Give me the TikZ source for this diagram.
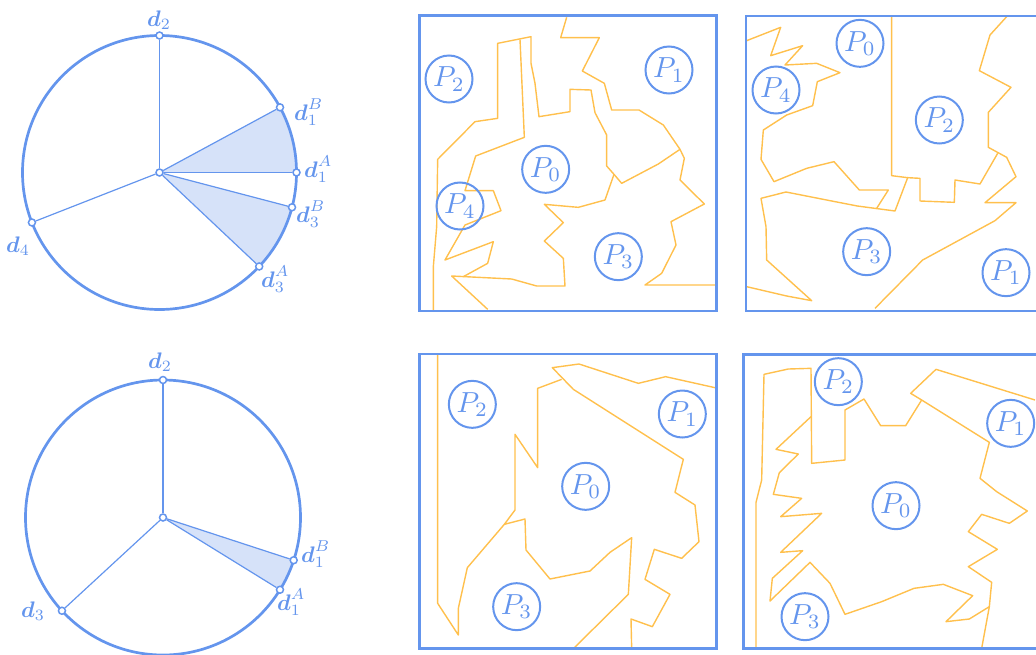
\RequirePackage{fix-cm}
\documentclass[tikz,border=0pt]{standalone}
\usepackage{amsmath}
\usepackage{graphicx}
\usetikzlibrary{calc}
\definecolor{cblue}{RGB}{100,149,237}
\definecolor{corange}{RGB}{255,192,77}
\definecolor{cfill}{RGB}{214,226,249}
\newcommand{\dl}[1]{\scalebox{2.25}{$#1$}}
\newcommand{\pl}[1]{\scalebox{2.9}{$#1$}}
\tikzset{
 disk/.style={draw=cblue,line width=2.7pt},
 spoke/.style={draw=cblue,line width=1.2pt},
 sector/.style={fill=cfill},
 pt/.style={circle,draw=cblue,fill=white,line width=1.5pt,minimum size=7pt,inner sep=0pt},
 dlab/.style={text=cblue,anchor=base west,inner sep=0pt,font=\fontsize{10}{12}\selectfont},
 frame/.style={draw=cblue,line width=2.9pt},
 bnd/.style={draw=corange,line width=1.4pt,line join=round},
 reg/.style={circle,draw=cblue,line width=2pt,minimum size=47pt,inner sep=0pt,text=cblue,font=\fontsize{10}{12}\selectfont},
}
\begin{document}
\begin{tikzpicture}[x=1pt,y=-1pt]
\useasboundingbox (0,0) rectangle (1036,654);
\clip (0,0) rectangle (1036,654);

% ---------- top disk ----------
\coordinate (C1) at (159.5,172.5);
\fill[sector] (C1) -- ($(C1)+(-28.4:137)$) arc[start angle=-28.4,end angle=0,radius=137] -- cycle;
\fill[sector] (C1) -- ($(C1)+(14.7:137)$) arc[start angle=14.7,end angle=43.3,radius=137] -- cycle;
\draw[disk] (C1) circle[radius=137];
\node[pt] (tc) at (C1) {};
\node[pt] (t2) at ($(C1)+(-90:137)$) {};
\node[pt] (t1B) at ($(C1)+(-28.4:137)$) {};
\node[pt] (t1A) at ($(C1)+(0:137)$) {};
\node[pt] (t3B) at ($(C1)+(14.7:137)$) {};
\node[pt] (t3A) at ($(C1)+(43.3:137)$) {};
\node[pt] (t4) at ($(C1)+(158.6:137)$) {};
\foreach \p in {t2,t1B,t1A,t3B,t3A,t4} \draw[spoke] (tc) -- (\p);
\node[dlab] (lt2) at (147,26) {\dl{\boldsymbol{d}_2}};
\node[dlab] (lt1B) at (294,120) {\dl{\boldsymbol{d}_1^B}};
\node[dlab] (lt1A) at (304,177) {\dl{\boldsymbol{d}_1^A}};
\node[dlab] (lt3B) at (296,222) {\dl{\boldsymbol{d}_3^B}};
\node[dlab] (lt3A) at (261,287) {\dl{\boldsymbol{d}_3^A}};
\node[dlab] (lt4) at (6,252) {\dl{\boldsymbol{d}_4}};

% ---------- bottom disk ----------
\coordinate (C2) at (163,517.5);
\fill[sector] (C2) -- ($(C2)+(18.1:137.5)$) arc[start angle=18.1,end angle=31.7,radius=137.5] -- cycle;
\draw[disk] (C2) circle[radius=137.5];
\node[pt] (bc) at (C2) {};
\node[pt] (b2) at ($(C2)+(-90:137.5)$) {};
\node[pt] (b1B) at ($(C2)+(18.1:137.5)$) {};
\node[pt] (b1A) at ($(C2)+(31.7:137.5)$) {};
\node[pt] (b3) at ($(C2)+(137.3:137.5)$) {};
\foreach \p in {b2,b1B,b1A,b3} \draw[spoke] (bc) -- (\p);
\node[dlab] (lb2) at (148,368) {\dl{\boldsymbol{d}_2}};
\node[dlab] (lb1B) at (301,562) {\dl{\boldsymbol{d}_1^B}};
\node[dlab] (lb1A) at (277,610) {\dl{\boldsymbol{d}_1^A}};
\node[dlab] (lb3) at (21,617) {\dl{\boldsymbol{d}_3}};

% ---------- panel A (top middle) ----------
\begin{scope}[shift={(415,10)},scale=1/3]
\draw[bnd] (455,22) -- (437,83) -- (553,83) -- (502,183) -- (568,220) -- (590,300) -- (672,300) -- (745,345) -- (795,418) -- (808,445) -- (795,510) -- (868,582) -- (768,635) -- (783,705) -- (740,790) -- (690,825) -- (900,825);
\draw[bnd] (795,418) -- (730,462) -- (620,520) -- (597,493) -- (575,468) -- (575,375) -- (540,308) -- (528,240) -- (465,238) -- (465,305) -- (372,320) -- (360,220) -- (348,160) -- (348,80) -- (248,100) -- (248,325) -- (180,335) -- (68,448) -- (65,650) -- (55,770) -- (55,900);
\draw[bnd] (597,493) -- (570,570) -- (490,592) -- (388,583) -- (445,638) -- (388,693) -- (445,745) -- (450,828) -- (365,828) -- (290,807) -- (110,798) -- (218,898);
\draw[bnd] (145,800) -- (218,760) -- (235,695) -- (90,750) -- (150,645) -- (258,602) -- (235,542) -- (150,542) -- (182,438) -- (328,382) -- (315,88);
\draw[frame] (14,16) rectangle (905,903);
\node[reg] (a2) at (102,207) {\pl{P_2}};
\node[reg] (a1) at (762,180) {\pl{P_1}};
\node[reg] (a0) at (392,478) {\pl{P_0}};
\node[reg] (a4) at (135,588) {\pl{P_4}};
\node[reg] (a3) at (610,740) {\pl{P_3}};
\end{scope}

% ---------- panel B (top right) ----------
\begin{scope}[shift={(740,10)},scale=1/3]
\draw[bnd] (455,20) -- (455,497) -- (503,503) -- (465,603) -- (352,588) -- (270,572) -- (138,546) -- (63,565) -- (78,650) -- (80,750) -- (215,872) -- (140,858) -- (20,830);
\draw[bnd] (503,503) -- (540,505) -- (540,573) -- (643,577) -- (645,510) -- (720,522) -- (773,430);
\draw[bnd] (800,20) -- (750,75) -- (718,182) -- (813,232) -- (745,307) -- (745,412) -- (800,442) -- (828,500) -- (735,578) -- (828,578) -- (765,632) -- (548,750) -- (405,895);
\draw[bnd] (20,92) -- (122,52) -- (92,137) -- (188,107) -- (135,165) -- (230,160) -- (300,188) -- (232,215) -- (218,287) -- (140,315) -- (70,360) -- (63,448) -- (102,515) -- (200,475) -- (282,455) -- (358,540) -- (445,540) -- (410,595);
\draw[frame] (18,18) rectangle (906,903);
\node[reg] (e0) at (360,100) {\pl{P_0}};
\node[reg] (e4) at (108,240) {\pl{P_4}};
\node[reg] (e2) at (598,330) {\pl{P_2}};
\node[reg] (e3) at (380,725) {\pl{P_3}};
\node[reg] (e1) at (798,788) {\pl{P_1}};
\end{scope}

% ---------- panel C (bottom middle) ----------
\begin{scope}[shift={(415,345)},scale=1/3]
\draw[bnd] (68,30) -- (68,775) -- (130,870) -- (130,790) -- (157,668) -- (268,538) -- (300,495) -- (300,268) -- (368,368) -- (368,130) -- (440,103);
\draw[bnd] (900,128) -- (752,95) -- (670,115) -- (492,57) -- (412,68) -- (475,133) -- (805,343) -- (780,442) -- (840,480) -- (852,590) -- (800,640) -- (718,613) -- (690,703) -- (765,748) -- (712,845) -- (648,822) -- (650,910);
\draw[bnd] (268,538) -- (330,522) -- (333,615) -- (405,702) -- (525,678) -- (585,622) -- (650,578) -- (640,748) -- (478,908);
\draw[frame] (14,27) rectangle (905,910);
\node[reg] (f2) at (172,178) {\pl{P_2}};
\node[reg] (f1) at (802,207) {\pl{P_1}};
\node[reg] (f0) at (512,424) {\pl{P_0}};
\node[reg] (f3) at (305,785) {\pl{P_3}};
\end{scope}

% ---------- panel D (bottom right) ----------
\begin{scope}[shift={(740,345)},scale=1/3]
\draw[bnd] (48,908) -- (48,472) -- (65,405) -- (72,88) -- (145,72) -- (213,70) -- (215,355) -- (315,345) -- (315,195) -- (372,162) -- (422,242) -- (497,242) -- (545,165);
\draw[bnd] (885,165) -- (588,73) -- (512,145) -- (545,165) -- (748,292) -- (720,400) -- (770,440) -- (862,498) -- (808,535) -- (725,508) -- (685,560) -- (772,613) -- (685,665) -- (755,712) -- (748,785) -- (725,910);
\draw[bnd] (213,215) -- (108,313) -- (175,327) -- (118,383) -- (100,448) -- (185,460) -- (122,515) -- (245,505) -- (122,622) -- (188,617) -- (97,700) -- (90,768) -- (210,652) -- (270,715) -- (315,808) -- (425,770) -- (522,730) -- (610,718) -- (698,752) -- (618,830) -- (688,822) -- (748,785);
\draw[frame] (10,28) rectangle (900,910);
\node[reg] (g2) at (295,110) {\pl{P_2}};
\node[reg] (g1) at (812,235) {\pl{P_1}};
\node[reg] (g0) at (468,482) {\pl{P_0}};
\node[reg] (g3) at (195,815) {\pl{P_3}};
\end{scope}
\end{tikzpicture}
\end{document}
